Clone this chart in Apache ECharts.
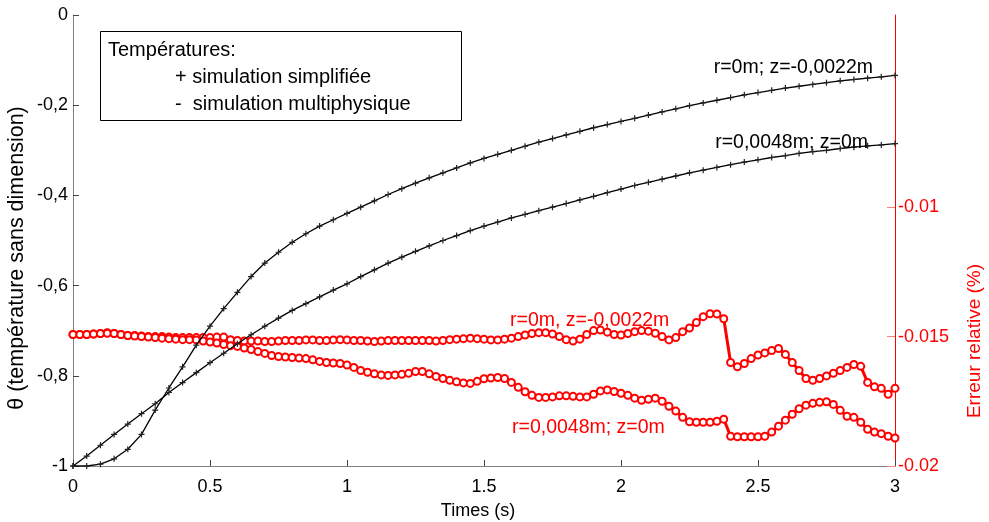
<!DOCTYPE html>
<html>
<head>
<meta charset="utf-8">
<script src="https://cdn.jsdelivr.net/npm/echarts@6.0.0/dist/echarts.min.js"></script>
<style>
html,body{margin:0;padding:0;background:#fff;overflow:hidden;}
#chart{width:989px;height:522px;}
</style>
</head>
<body>
<div id="chart"></div>
<script>
// ---- Data ----
const timesBlack = [0,0.05,0.1,0.15,0.2,0.25,0.3,0.35,0.4,0.45,0.5,0.55,0.6,0.65,0.7,0.75,0.8,0.85,0.9,0.95,1,1.05,1.1,1.15,1.2,1.25,1.3,1.35,1.4,1.45,1.5,1.55,1.6,1.65,1.7,1.75,1.8,1.85,1.9,1.95,2,2.05,2.1,2.15,2.2,2.25,2.3,2.35,2.4,2.45,2.5,2.55,2.6,2.65,2.7,2.75,2.8,2.85,2.9,2.95,3];

// theta, r=0m; z=-0,0022m
const thetaCenter = [-1.000,-1.000,-0.996,-0.984,-0.963,-0.930,-0.876,-0.827,-0.780,-0.732,
-0.690,-0.651,-0.615,-0.580,-0.550,-0.526,-0.504,-0.485,-0.468,-0.454,
-0.440,-0.426,-0.412,-0.398,-0.385,-0.373,-0.361,-0.350,-0.339,-0.328,
-0.318,-0.309,-0.300,-0.291,-0.282,-0.274,-0.266,-0.258,-0.250,-0.243,
-0.236,-0.229,-0.222,-0.215,-0.208,-0.201,-0.195,-0.189,-0.183,-0.177,
-0.172,-0.167,-0.162,-0.158,-0.154,-0.150,-0.146,-0.143,-0.140,-0.137,
-0.134];

// theta, r=0,0048m; z=0m
const thetaEdge = [-1.000,-0.978,-0.954,-0.930,-0.907,-0.884,-0.862,-0.837,-0.815,-0.793,
-0.771,-0.750,-0.729,-0.709,-0.690,-0.672,-0.655,-0.640,-0.625,-0.610,
-0.596,-0.580,-0.565,-0.550,-0.537,-0.524,-0.512,-0.500,-0.489,-0.478,
-0.468,-0.459,-0.450,-0.442,-0.434,-0.426,-0.418,-0.410,-0.402,-0.394,
-0.386,-0.378,-0.371,-0.364,-0.357,-0.350,-0.344,-0.338,-0.332,-0.326,
-0.321,-0.316,-0.312,-0.307,-0.303,-0.300,-0.296,-0.293,-0.290,-0.288,
-0.285];

const timesRed = [0,0.025,0.05,0.075,0.1,0.125,0.15,0.175,0.2,0.225,
0.25,0.275,0.3,0.325,0.35,0.375,0.4,0.425,0.45,0.475,
0.5,0.525,0.55,0.575,0.6,0.625,0.65,0.675,0.7,0.725,
0.75,0.775,0.8,0.825,0.85,0.875,0.9,0.925,0.95,0.975,
1,1.025,1.05,1.075,1.1,1.125,1.15,1.175,1.2,1.225,
1.25,1.275,1.3,1.325,1.35,1.375,1.4,1.425,1.45,1.475,
1.5,1.525,1.55,1.575,1.6,1.625,1.65,1.675,1.7,1.725,
1.75,1.775,1.8,1.825,1.85,1.875,1.9,1.925,1.95,1.975,
2,2.025,2.05,2.075,2.1,2.125,2.15,2.175,2.2,2.225,
2.25,2.275,2.3,2.325,2.35,2.375,2.4,2.425,2.45,2.475,
2.5,2.525,2.55,2.575,2.6,2.625,2.65,2.675,2.7,2.725,
2.75,2.775,2.8,2.825,2.85,2.875,2.9,2.925,2.95,2.975,
3];

// relative error, r=0m, z=-0,0022m
const errCenter = [-0.01492,-0.01492,-0.01492,-0.01490,-0.01488,-0.01485,-0.01488,-0.01492,-0.01496,-0.01496,
-0.01498,-0.01500,-0.01500,-0.01500,-0.01502,-0.01504,-0.01504,-0.01504,-0.01504,-0.01504,
-0.01504,-0.01502,-0.01502,-0.01512,-0.01515,-0.01517,-0.01517,-0.01517,-0.01519,-0.01519,
-0.01517,-0.01515,-0.01515,-0.01515,-0.01513,-0.01513,-0.01515,-0.01515,-0.01513,-0.01512,
-0.01513,-0.01515,-0.01515,-0.01517,-0.01519,-0.01517,-0.01515,-0.01515,-0.01515,-0.01515,
-0.01515,-0.01515,-0.01515,-0.01517,-0.01515,-0.01512,-0.01510,-0.01508,-0.01506,-0.01508,
-0.01510,-0.01513,-0.01513,-0.01510,-0.01506,-0.01500,-0.01494,-0.01488,-0.01485,-0.01485,
-0.01490,-0.01500,-0.01512,-0.01517,-0.01510,-0.01492,-0.01477,-0.01475,-0.01483,-0.01492,
-0.01494,-0.01488,-0.01481,-0.01477,-0.01479,-0.01487,-0.01500,-0.01513,-0.01504,-0.01481,
-0.01467,-0.01446,-0.01423,-0.01412,-0.01413,-0.01431,-0.01600,-0.01617,-0.01604,-0.01585,
-0.01571,-0.01563,-0.01554,-0.01546,-0.01569,-0.01600,-0.01631,-0.01662,-0.01669,-0.01662,
-0.01652,-0.01642,-0.01631,-0.01619,-0.01608,-0.01615,-0.01677,-0.01694,-0.01700,-0.01723,
-0.01700];

// relative error, r=0,0048m; z=0m
const errEdge = [-0.01492,-0.01492,-0.01492,-0.01490,-0.01488,-0.01487,-0.01488,-0.01492,-0.01496,-0.01498,
-0.01500,-0.01502,-0.01504,-0.01506,-0.01508,-0.01510,-0.01512,-0.01512,-0.01513,-0.01517,
-0.01521,-0.01525,-0.01531,-0.01535,-0.01538,-0.01544,-0.01550,-0.01558,-0.01565,-0.01573,
-0.01577,-0.01579,-0.01581,-0.01583,-0.01585,-0.01590,-0.01596,-0.01600,-0.01602,-0.01604,
-0.01610,-0.01619,-0.01631,-0.01638,-0.01644,-0.01648,-0.01650,-0.01648,-0.01646,-0.01642,
-0.01635,-0.01635,-0.01644,-0.01654,-0.01662,-0.01669,-0.01675,-0.01679,-0.01681,-0.01673,
-0.01663,-0.01660,-0.01658,-0.01662,-0.01677,-0.01696,-0.01713,-0.01727,-0.01735,-0.01735,
-0.01733,-0.01729,-0.01729,-0.01731,-0.01733,-0.01733,-0.01723,-0.01710,-0.01706,-0.01712,
-0.01719,-0.01727,-0.01738,-0.01746,-0.01742,-0.01738,-0.01750,-0.01769,-0.01788,-0.01812,
-0.01829,-0.01831,-0.01831,-0.01831,-0.01827,-0.01819,-0.01885,-0.01887,-0.01887,-0.01887,
-0.01887,-0.01885,-0.01869,-0.01846,-0.01823,-0.01800,-0.01779,-0.01765,-0.01758,-0.01754,
-0.01752,-0.01762,-0.01785,-0.01808,-0.01812,-0.01831,-0.01858,-0.01869,-0.01875,-0.01885,
-0.01892];

const rightTicks = [-0.02,-0.015,-0.01];

// ---- Chart ----
const FONT = '"Liberation Sans", Arial, Helvetica, sans-serif';
const plus = 'path://M0,2.4H6V3.6H0Z M2.4,0H3.6V6H2.4Z';
const chart = echarts.init(document.getElementById('chart'), null, {renderer:'canvas', width:989, height:522});

function blackSeries(name, ys){
  return {
    name, type:'line', xAxisIndex:0, yAxisIndex:0, z:5,
    data: timesBlack.map((t,i)=>[t, ys[i]]),
    symbol: plus, symbolSize:6, showSymbol:true, showAllSymbol:true,
    lineStyle:{color:'#000', width:1.3},
    itemStyle:{color:'#222'},
    emphasis:{disabled:true}
  };
}
function redSeries(name, ys){
  return {
    name, type:'line', xAxisIndex:0, yAxisIndex:1, z:3,
    data: timesRed.map((t,i)=>[t, ys[i]]),
    symbol:'emptyCircle', symbolSize:7, showSymbol:true, showAllSymbol:true,
    lineStyle:{color:'#ff0000', width:3},
    itemStyle:{color:'#ff0000', borderColor:'#ff0000', borderWidth:1.3},
    emphasis:{disabled:true}
  };
}

const txt = (x,y,text,color,size,extra) => Object.assign({
  type:'text', x, y, z:101,
  style:Object.assign({text, fill:color||'#000', font:(size||18)+'px '+FONT, verticalAlign:'middle', align:'left'}, extra||{})
});

const option = {
  animation:false,
  backgroundColor:'#ffffff',
  textStyle:{fontFamily:FONT},
  grid:{left:73, right:94, top:15, bottom:56, containLabel:false, outerBoundsMode:'none'},
  xAxis:{
    type:'value', min:0, max:3, interval:0.5,
    name:'Times (s)', nameLocation:'middle', nameGap:36,
    nameTextStyle:{fontSize:18, color:'#000', fontFamily:FONT, padding:[0,12,0,0]},
    axisLine:{show:true, onZero:false, lineStyle:{color:'#808080', width:1}},
    axisTick:{show:true, inside:true, length:6, lineStyle:{color:'#444'}},
    axisLabel:{fontSize:18, color:'#000', margin:12, fontFamily:FONT, formatter:v=>String(v)},
    splitLine:{show:false}
  },
  yAxis:[{
    type:'value', min:-1, max:0, interval:0.2, position:'left',
    axisLine:{show:true, onZero:false, lineStyle:{color:'#808080', width:1}},
    axisTick:{show:true, inside:true, length:6, lineStyle:{color:'#444'}},
    axisLabel:{fontSize:18, color:'#000', margin:5, fontFamily:FONT,
      formatter:v=>{const r=Math.round(v*10)/10; return r===0?'0':String(r).replace('.',',');}},
    splitLine:{show:false}
  },{
    type:'value', min:-0.02, max:-0.002577, position:'right',
    axisLine:{show:true, onZero:false, lineStyle:{color:'#ff0000', width:1}},
    axisTick:{show:true, inside:true, length:8, lineStyle:{color:'#ff8080'}, customValues:rightTicks},
    axisLabel:{fontSize:18, color:'#ff0000', margin:3, fontFamily:FONT, customValues:rightTicks, formatter:v=>String(v)},
    splitLine:{show:false}
  }],
  series:[
    redSeries('erreur r=0m', errCenter),
    redSeries('erreur r=0,0048m', errEdge),
    blackSeries('r=0m; z=-0,0022m', thetaCenter),
    blackSeries('r=0,0048m; z=0m', thetaEdge)
  ],
  graphic:[
    {type:'rect', z:100, shape:{x:100.5, y:31.5, width:361, height:89}, style:{fill:'#fff', stroke:'#000', lineWidth:1}},
    txt(108, 50, 'Températures:', '#000', 20),
    txt(175, 77, '+ simulation simplifiée', '#000', 20),
    txt(175, 104, '-  simulation multiphysique', '#000', 20),
    txt(873, 68, 'r=0m; z=-0,0022m', '#000', 19.5, {align:'right'}),
    txt(868, 143, 'r=0,0048m; z=0m', '#000', 19.5, {align:'right'}),
    txt(510, 321, 'r=0m, z=-0,0022m', '#ff0000', 19.5),
    txt(512, 428, 'r=0,0048m; z=0m', '#ff0000', 19.5),
    Object.assign(txt(17, 258, 'θ (température sans dimension)', '#000', 21.5, {align:'center'}), {rotation:Math.PI/2}),
    Object.assign(txt(975, 341, 'Erreur relative (%)', '#ff0000', 19, {align:'center'}), {rotation:Math.PI/2})
  ]
};
chart.setOption(option);
</script>
</body>
</html>
